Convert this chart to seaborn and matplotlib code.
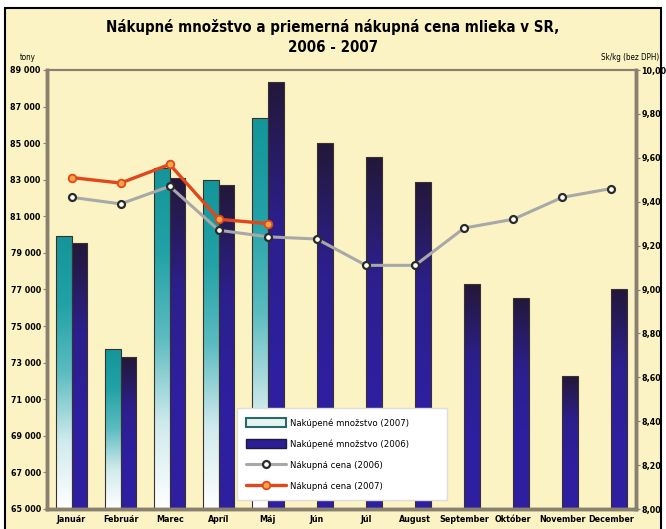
import numpy as np
import pandas as pd
import matplotlib.pyplot as plt
import matplotlib.patches as mpatches
from matplotlib.lines import Line2D
from matplotlib.colors import LinearSegmentedColormap
from matplotlib import font_manager
import seaborn as sns

# udaje
mesiace = ["Január", "Február", "Marec", "Apríl", "Máj", "Jún", "Júl",
           "August", "September", "Október", "November", "December"]
mnozstvo_2007 = [79900, 73750, 83650, 83000, 86400]
mnozstvo_2006 = [79550, 73300, 83100, 82700, 88350, 85000, 84250,
                 82900, 77300, 76550, 72250, 77000]
cena_2006 = [9.42, 9.39, 9.47, 9.27, 9.24, 9.23, 9.11, 9.11, 9.28, 9.32, 9.42, 9.46]
cena_2007 = [9.51, 9.485, 9.57, 9.32, 9.30]

rows = []
for i, m in enumerate(mesiace):
    rows.append({"mesiac": m, "rok": "2007",
                 "mnozstvo": mnozstvo_2007[i] if i < len(mnozstvo_2007) else np.nan})
    rows.append({"mesiac": m, "rok": "2006", "mnozstvo": mnozstvo_2006[i]})
df = pd.DataFrame(rows)

sns.set_style("white")
installed = {f.name for f in font_manager.fontManager.ttflist}
fam = [f for f in ["Liberation Sans Narrow", "DejaVu Sans Condensed"] if f in installed]
plt.rcParams["font.family"] = fam + ["DejaVu Sans"]
plt.rcParams["font.stretch"] = "condensed"
plt.rcParams["text.color"] = "black"
plt.rcParams["xtick.color"] = "black"
plt.rcParams["ytick.color"] = "black"

bg = "#FBF3C4"
fig = plt.figure(figsize=(6.66, 5.29), dpi=100, facecolor="white")
# ramcek okolo grafu
fig.patches.append(mpatches.Rectangle((5 / 666, -0.01), 656 / 666, 1 - 8 / 529 + 0.01,
                                      transform=fig.transFigure, facecolor=bg,
                                      edgecolor="black", linewidth=1.5, zorder=-10))

ax = fig.add_axes([47 / 666, 1 - 509 / 529, 589 / 666, 439 / 529])
ax.patch.set_alpha(0)

sns.barplot(data=df, x="mesiac", y="mnozstvo", hue="rok", hue_order=["2007", "2006"],
            palette={"2007": "#20A0A4", "2006": "#2C1E96"}, width=0.64,
            edgecolor="#3A3030", linewidth=0.8, legend=False, ax=ax)

ymin, ymax = 65000, 89000

# gradient na stlpcoch
cm07 = LinearSegmentedColormap.from_list("c07", ["#FFFFFF", "#CFEAEC", "#5CBCC0", "#22A2A6", "#149599"])
cm06 = LinearSegmentedColormap.from_list("c06", ["#2E1FA0", "#2E1FA0", "#2C1F8C", "#231838"])
grad = np.linspace(0, 1, 256).reshape(-1, 1)
for p in list(ax.patches):
    h = p.get_height()
    if not np.isfinite(h) or h <= ymin:
        continue
    fc = p.get_facecolor()
    cmap = cm07 if fc[1] > 0.4 else cm06
    x0 = p.get_x()
    x1 = x0 + p.get_width()
    im = ax.imshow(grad, extent=[x0, x1, ymin, h], origin="lower", aspect="auto",
                   cmap=cmap, zorder=p.get_zorder())
    im.set_clip_path(p)
    p.set_facecolor("none")
    p.set_zorder(p.get_zorder() + 0.1)
ax.set_ylim(ymin, ymax)
ax.set_xlim(-0.5, 11.5)

fs = 6.4
ax.set_yticks(range(65000, 89001, 2000))
ax.set_yticklabels([f"{v:,}".replace(",", " ") for v in range(65000, 89001, 2000)],
                   fontsize=fs, fontweight="bold")
ax.set_xticks(range(12))
ax.set_xticklabels(mesiace, fontsize=fs, fontweight="bold")
ax.set_xticks(np.arange(-0.5, 12, 1), minor=True)
ax.tick_params(axis="x", which="major", length=0, pad=4)
ax.tick_params(axis="x", which="minor", length=3, color="#8A8070")
ax.tick_params(axis="y", length=3, color="#8A8070", pad=1.5)
ax.set_xlabel("")
ax.set_ylabel("")

# druha os - ceny
ax2 = ax.twinx()
x_pos = np.arange(12)
sns.lineplot(x=x_pos, y=cena_2006, ax=ax2, color="#A8A8A8", linewidth=2.2,
             marker="o", markersize=5, markerfacecolor="white",
             markeredgecolor="#2A2A2A", markeredgewidth=1.6)
sns.lineplot(x=x_pos[:len(cena_2007)], y=cena_2007, ax=ax2, color="#E0471C",
             linewidth=2.4, marker="o", markersize=5.5, markerfacecolor="#F6A640",
             markeredgecolor="#E0471C", markeredgewidth=1.3)
ax2.set_ylim(8.0, 10.0)
ax2.set_xlim(-0.5, 11.5)
ax2.set_yticks(np.arange(8.0, 10.01, 0.2))
ax2.set_yticklabels([f"{v:.2f}".replace(".", ",") for v in np.arange(8.0, 10.01, 0.2)],
                    fontsize=fs, fontweight="bold")
ax2.tick_params(axis="y", length=3, color="#8A8070", pad=1)
ax2.set_ylabel("")

for a in (ax, ax2):
    for s in a.spines.values():
        s.set_color("#8A8070")
        s.set_linewidth(1.5)
    a.spines["left"].set_linewidth(2.5)
    a.spines["right"].set_linewidth(2.5)
    a.spines["bottom"].set_linewidth(2.5)

# legenda
handles = [
    mpatches.Patch(facecolor="#E6F4F2", edgecolor="#2A6A6A", linewidth=1.5),
    mpatches.Patch(facecolor="#2C1E96", edgecolor="#231838"),
    Line2D([], [], color="#A8A8A8", lw=2.2, marker="o", markersize=5,
           markerfacecolor="white", markeredgecolor="#2A2A2A", markeredgewidth=1.6),
    Line2D([], [], color="#E0471C", lw=2.4, marker="o", markersize=5.5,
           markerfacecolor="#F6A640", markeredgecolor="#E0471C", markeredgewidth=1.3),
]
labels = ["Nakúpené množstvo (2007)", "Nakúpené množstvo (2006)",
          "Nákupná cena (2006)", "Nákupná cena (2007)"]
leg = ax2.legend(handles, labels, loc="lower left",
                 bbox_to_anchor=(0.322, 0.02, 0.357, 0.212), mode="expand",
                 fontsize=6.8, frameon=True, facecolor="white", edgecolor="#DDDDDD",
                 framealpha=1, fancybox=False, handlelength=4.2, handleheight=1.1,
                 labelspacing=1.2, borderpad=1.0, handletextpad=0.5, borderaxespad=0)

tfs = 10.8
fig.text(0.5, 1 - 27 / 529, "Nákupné množstvo a priemerná nákupná cena mlieka v SR,",
         ha="center", va="center", fontsize=tfs, fontweight="bold")
fig.text(0.5, 1 - 47 / 529, "2006 - 2007", ha="center", va="center",
         fontsize=tfs, fontweight="bold")
fig.text(20 / 666, 1 - 57 / 529, "tony", ha="left", va="center", fontsize=5.8)
fig.text(659 / 666, 1 - 57 / 529, "Sk/kg (bez DPH)", ha="right", va="center",
         fontsize=5.8)

plt.savefig("out.png", dpi=100, facecolor=fig.get_facecolor())
